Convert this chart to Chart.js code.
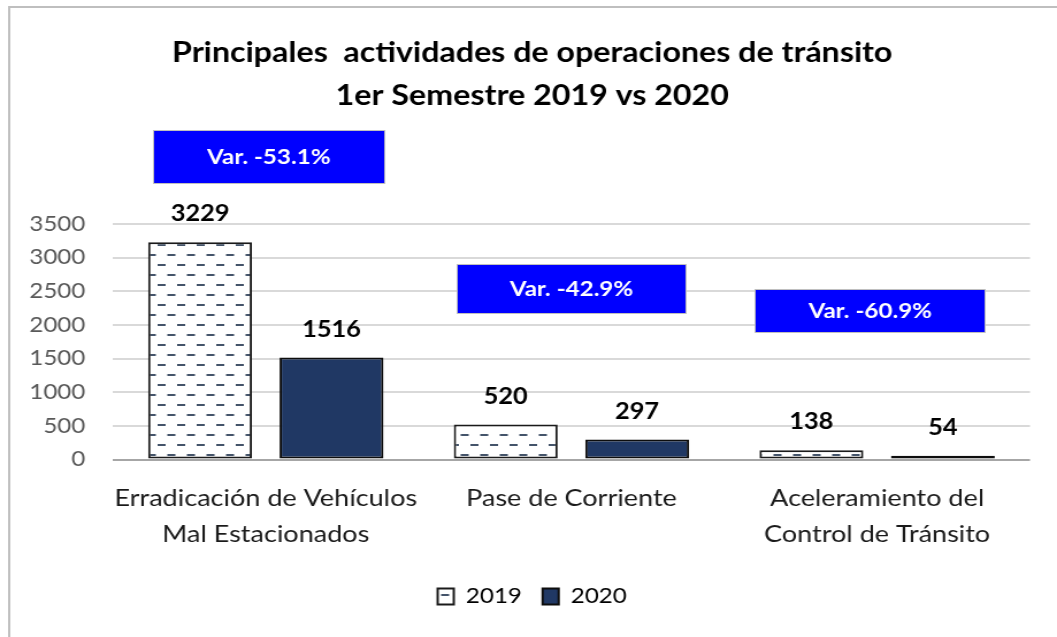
<!DOCTYPE html>
<html>
<head>
<meta charset="utf-8">
<script src="https://cdn.jsdelivr.net/npm/chart.js@4.4.0/dist/chart.umd.min.js"></script>
<style>
  html, body { margin: 0; padding: 0; background: #ffffff; overflow: hidden; }
  #wrap { position: absolute; left: 0; top: 0; width: 919px; height: 637px;
          transform: scaleX(1.15016); transform-origin: 0 0; }
</style>
</head>
<body>
<div id="wrap"><canvas id="c"></canvas></div>
<script>
// ---- Data ----
const categories = [
  ['Erradicación de Vehículos', 'Mal Estacionados'],
  ['Pase de Corriente'],
  ['Aceleramiento del', 'Control de Tránsito']
];
const seriesNames = ['2019', '2020'];
const values2019 = [3229, 520, 138];
const values2020 = [1516, 297, 54];
const varLabels = ['Var. -53.1%', 'Var. -42.9%', 'Var. -60.9%'];
const yTickValues = [0, 500, 1000, 1500, 2000, 2500, 3000, 3500];
const titleLines = ['Principales  actividades de operaciones de tránsito', '1er Semestre 2019 vs 2020'];

// ---- Annotation box placement (layout, not data) ----
const varBoxLayout = [
  { dx: 2.6, yValue: 4490, w: 202, h: 54 },
  { dx: 0,   yValue: 2530, w: 200, h: 50 },
  { dx: -6,  yValue: 2200, w: 201, h: 44 }
];

const FONT = 'Lato, "Open Sans", sans-serif';

// dashed pattern for 2019
function makePattern() {
  const p = document.createElement('canvas');
  p.width = 17; p.height = 20;
  const g = p.getContext('2d');
  g.fillStyle = '#ffffff';
  g.fillRect(0, 0, 17, 20);
  g.strokeStyle = '#44546a';
  g.lineWidth = 2;
  g.beginPath();
  g.moveTo(1, 5); g.lineTo(8, 5);
  g.moveTo(9.5, 15); g.lineTo(16.5, 15);
  g.stroke();
  return g.createPattern(p, 'repeat');
}
const pattern = makePattern();

const framePlugin = {
  id: 'frame',
  beforeDraw(chart) {
    const ctx = chart.ctx;
    ctx.save();
    ctx.fillStyle = '#ffffff';
    ctx.fillRect(0, 0, chart.width, chart.height);
    ctx.strokeStyle = '#bfbfbf';
    ctx.lineWidth = 2;
    ctx.strokeRect(8, 7, chart.width + 20, chart.height + 20);
    ctx.restore();
  }
};

const labelPlugin = {
  id: 'valueLabels',
  afterDatasetsDraw(chart) {
    const ctx = chart.ctx;
    ctx.save();
    ctx.font = 'bold 22px ' + FONT;
    ctx.fillStyle = '#000000';
    ctx.textAlign = 'center';
    ctx.textBaseline = 'alphabetic';
    chart.data.datasets.forEach((ds, di) => {
      const meta = chart.getDatasetMeta(di);
      meta.data.forEach((bar, i) => {
        ctx.fillText(String(ds.data[i]), bar.x, bar.y - 21);
      });
    });
    ctx.restore();
  }
};

const varPlugin = {
  id: 'varBoxes',
  afterDraw(chart) {
    const ctx = chart.ctx;
    const xs = chart.scales.x, ys = chart.scales.y;
    ctx.save();
    varLabels.forEach((txt, i) => {
      const L = varBoxLayout[i];
      const cx = xs.getPixelForValue(i) + L.dx;
      const cy = ys.getPixelForValue(L.yValue);
      const x0 = Math.round(cx - L.w / 2), y0 = Math.round(cy - L.h / 2);
      ctx.fillStyle = '#0000ff';
      ctx.fillRect(x0, y0, L.w, L.h);
      ctx.strokeStyle = '#bfbfbf';
      ctx.lineWidth = 1;
      ctx.strokeRect(x0 + 0.5, y0 + 0.5, L.w - 1, L.h - 1);
      ctx.fillStyle = '#ffffff';
      ctx.font = 'bold 21px ' + FONT;
      ctx.textAlign = 'center';
      ctx.textBaseline = 'middle';
      ctx.fillText(txt, cx, cy);
    });
    ctx.restore();
  }
};

new Chart(document.getElementById('c'), {
  type: 'bar',
  data: {
    labels: categories,
    datasets: [
      {
        label: seriesNames[0],
        data: values2019,
        backgroundColor: pattern,
        borderColor: '#1a1a1a',
        borderWidth: 2,
        borderSkipped: false,
        yAxisID: 'y'
      },
      {
        label: seriesNames[1],
        data: values2020,
        backgroundColor: '#203864',
        borderColor: '#0d0d0d',
        borderWidth: 2,
        borderSkipped: false,
        yAxisID: 'y'
      }
    ]
  },
  options: {
    responsive: true,
    maintainAspectRatio: false,
    animation: false,
    devicePixelRatio: 1,
    categoryPercentage: 0.86,
    barPercentage: 0.79,
    layout: { padding: { left: 15, right: 8.5, top: 0, bottom: 20 } },
    plugins: {
      title: {
        display: true,
        text: titleLines,
        color: '#000000',
        font: { family: FONT, size: 28, weight: 'bold', lineHeight: 1.536 },
        padding: { top: 31, bottom: 107 }
      },
      legend: {
        display: true,
        position: 'bottom',
        labels: {
          color: '#000000',
          font: { family: FONT, size: 21 },
          boxWidth: 14,
          boxHeight: 16,
          padding: 18
        }
      },
      tooltip: { enabled: false }
    },
    scales: {
      x: {
        grid: { display: false, drawTicks: false },
        border: { display: false },
        ticks: {
          color: '#1a1a1a',
          font: { family: FONT, size: 23.5, lineHeight: 1.532 },
          padding: 21,
          maxRotation: 0,
          autoSkip: false
        },
        afterFit(scale) { scale.height = 108.5; }
      },
      y: {
        position: 'left',
        min: 0,
        max: 3500,
        afterBuildTicks(scale) { scale.ticks = yTickValues.map(v => ({ value: v })); },
        grid: {
          drawTicks: false,
          lineWidth: 2,
          color: (ctx) => (ctx.tick && ctx.tick.value === 0) ? '#a6a6a6' : '#d9d9d9'
        },
        border: { display: false },
        ticks: {
          color: '#595959',
          font: { family: FONT, size: 21 },
          padding: 24,
          callback: (v) => String(v)
        },
        afterFit(scale) { scale.width = 83.2; }
      },
      ySpacer: {
        position: 'right',
        min: 0,
        max: 3500,
        grid: { display: false, drawTicks: false },
        border: { display: false },
        ticks: { display: false },
        afterFit(scale) { scale.width = 15; }
      }
    }
  },
  plugins: [framePlugin, labelPlugin, varPlugin]
});
</script>
</body>
</html>
